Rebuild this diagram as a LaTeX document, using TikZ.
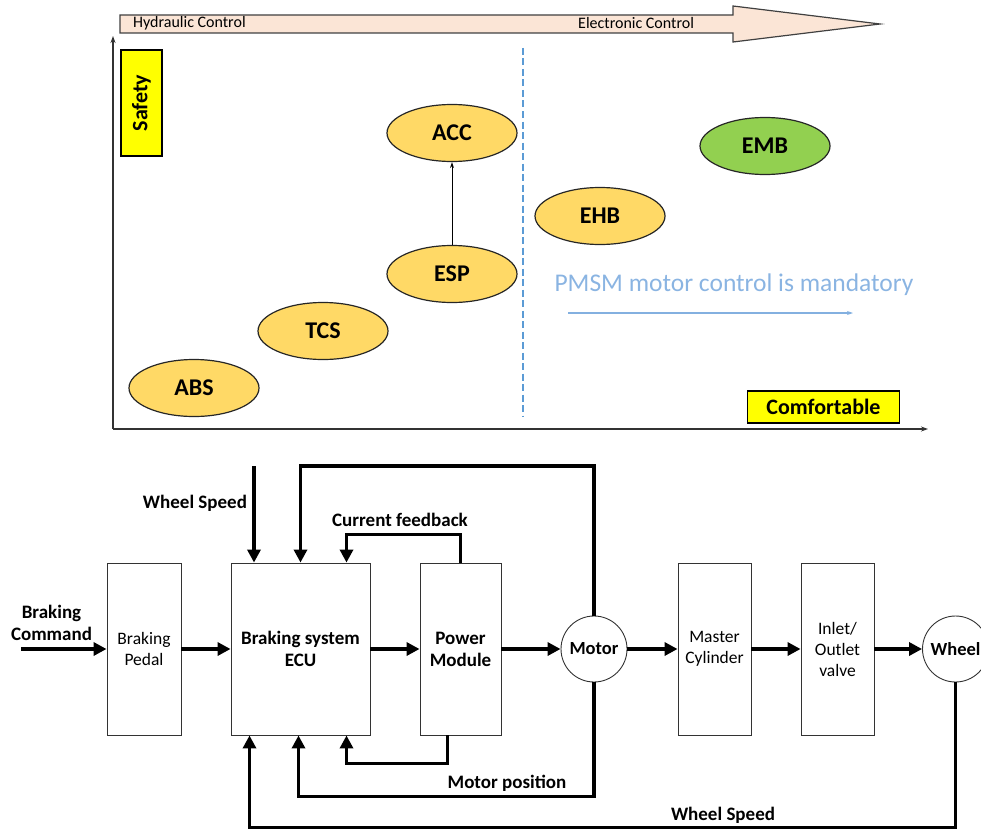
\documentclass[tikz,border=0pt]{standalone}
\usepackage{fontspec}
\setmainfont{Carlito}
\usetikzlibrary{arrows.meta,shapes.geometric,calc}

\definecolor{peach}{HTML}{FBE5D6}
\definecolor{hiyellow}{HTML}{FFFF00}
\definecolor{gold}{HTML}{FFD966}
\definecolor{leaf}{HTML}{92D050}
\definecolor{skyline}{HTML}{5B9BD5}
\definecolor{skytext}{HTML}{8AB4E2}

\tikzset{
  pill/.style={ellipse, draw=black!85, line width=1.2pt, fill=gold,
    minimum width=130, minimum height=57, inner sep=0pt,
    font=\fontsize{24}{28}\selectfont\bfseries},
  tag/.style={draw=black, line width=1.2pt, fill=hiyellow, inner sep=0pt,
    font=\fontsize{22}{24}\selectfont\bfseries},
  axis/.style={line width=1.2pt, draw=black!80, -{Stealth[length=7pt,width=5pt]}},
  blk/.style={draw=black!80, line width=0.9pt, fill=white, align=center,
    minimum height=172, inner sep=0pt, font=\fontsize{17.5}{21}\selectfont},
  disc/.style={circle, draw=black!80, line width=0.9pt, fill=white,
    minimum size=66, inner sep=0pt, font=\fontsize{18.5}{21}\selectfont\bfseries},
  flow/.style={line width=3.6pt, draw=black, line join=miter,
    -{Triangle[length=13pt,width=13pt]}},
  lbl/.style={font=\fontsize{19}{22}\selectfont\bfseries, align=center, inner sep=0pt},
  small/.style={font=\fontsize{16}{18}\selectfont, inner sep=0pt}
}

\begin{document}
\begin{tikzpicture}[x=1pt,y=-1pt]
\useasboundingbox (0,0) rectangle (981,832);
\clip (0,0) rectangle (981,832);

% ---------- evolution chart ----------
% hydraulic -> electronic block arrow
\draw[draw=black!75, line width=1.2pt, fill=peach]
  (120,15) -- (733,15) -- (733,6) -- (880,24) -- (733,42) -- (733,33) -- (120,33) -- cycle;
\node[small, anchor=west] (hyd) at (133,23.5) {Hydraulic Control};
\node[small, anchor=west] (elec) at (578,23.5) {Electronic Control};

% axes
\coordinate (org) at (113,429);
\coordinate (ytop) at (113,36);
\coordinate (xend) at (928,429);
\draw[axis] (org) -- (ytop);
\draw[axis] (org) -- (xend);

% axis tags
\node[tag, minimum width=41, minimum height=106] (safety) at (141.5,103)
  {\rotatebox{90}{Safety}};
\node[tag, minimum width=152, minimum height=32] (comfort) at (823.5,407) {Comfortable};

% boundary between hydraulic and electronic systems
\coordinate (divtop) at (523,48);
\coordinate (divbot) at (523,416);
\draw[skyline, line width=2.8pt, dash pattern=on 7pt off 3.5pt] (divtop) -- (divbot);

% systems
\node[pill] (abs) at (194,388) {ABS};
\node[pill] (tcs) at (323,331) {TCS};
\node[pill] (esp) at (452,274) {ESP};
\node[pill] (acc) at (452,133) {ACC};
\node[pill] (ehb) at (600,216) {EHB};
\node[pill, fill=leaf] (emb) at (765,146) {EMB};
\draw[line width=1pt, -{Stealth[length=6pt,width=4pt]}] (esp) -- (acc);

\node[font=\fontsize{25.5}{28}\selectfont, text=skytext, inner sep=0pt] (pmsm) at (734,285)
  {PMSM motor control is mandatory};
\coordinate (pa) at (568,313);
\coordinate (pb) at (853,313);
\draw[skytext!85!skyline, line width=1.2pt, -{Stealth[length=6pt,width=4pt]}] (pa) -- (pb);

% ---------- brake-by-wire control loop ----------
\node[blk, minimum width=74] (pedal) at (144,649) {Braking\\Pedal};
\node[blk, minimum width=139, font=\fontsize{19}{22}\selectfont\bfseries] (ecu) at (300.5,649)
  {Braking system\\ECU};
\node[blk, minimum width=81, font=\fontsize{19}{22}\selectfont\bfseries] (pm) at (460.5,649)
  {Power\\Module};
\node[disc] (motor) at (594,649) {Motor};
\node[blk, minimum width=73] (mc) at (714.5,649) {Master\\Cylinder};
\node[blk, minimum width=73] (valve) at (837.5,649) {Inlet/\\Outlet\\valve};
\node[disc] (wheel) at (955.5,649) {Wheel};

% forward path
\coordinate (cmd) at (21,649);
\node[lbl] (cmdlbl) at (51.5,623) {Braking\\Command};
\draw[flow] (cmd) -- (pedal.west);
\draw[flow] (pedal) -- (ecu);
\draw[flow] (ecu) -- (pm);
\draw[flow] (pm) -- (motor);
\draw[flow] (motor) -- (mc);
\draw[flow] (mc) -- (valve);
\draw[flow] (valve) -- (wheel);

% inputs and feedback into the ECU
\coordinate (wsin) at (254,466);
\coordinate (topy) at (0,466);
\node[lbl] (wstop) at (195,503) {Wheel Speed};
\draw[flow] (wsin) -- (wsin |- ecu.north);

\draw[flow] (motor.north) -- (motor.north |- topy) -| (ecu.north);

\node[lbl] (curfb) at (400,520) {Current feedback};
\draw[flow] (pm.north) -- ++(0,-28) -| ($(ecu.north)+(46,0)$);

\draw[flow] ($(pm.south)+(-13,0)$) -- ++(0,28) -| ($(ecu.south)+(46,0)$);

\node[lbl] (mpos) at (507,783) {Motor position};
\draw[flow] (motor.south) -- ++(0,114) -| ($(ecu.south)+(-2,0)$);

\node[lbl] (wsbot) at (723,815) {Wheel Speed};
\draw[flow] (wheel.south) -- ++(0,145) -| ($(ecu.south)+(-51,0)$);
\end{tikzpicture}
\end{document}
